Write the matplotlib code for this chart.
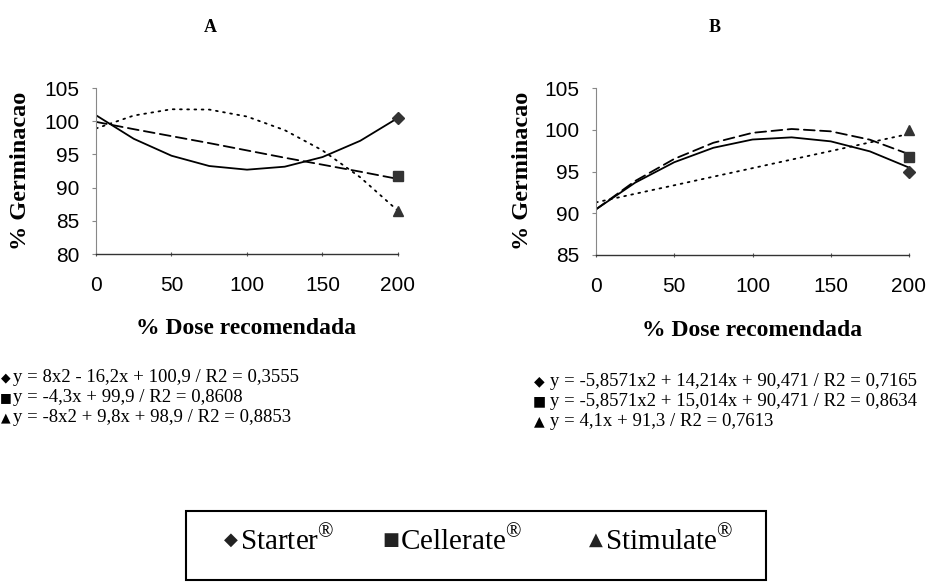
"""Germination vs recommended dose, panels A and B with trendline equations."""
import matplotlib
matplotlib.use('Agg')
import matplotlib.pyplot as plt
from matplotlib.patches import Rectangle

plt.rcParams['mathtext.fontset'] = 'custom'
plt.rcParams['mathtext.rm'] = 'Liberation Serif'

W, H = 928, 583

# values, every 25 % of dose
dose = [0, 25, 50, 75, 100, 125, 150, 175, 200]

a_starter = [100.9, 97.35, 94.8, 93.25, 92.7, 93.15, 94.6, 97.05, 100.5]
a_cellerate = [99.9, 98.8, 97.75, 96.7, 95.6, 94.5, 93.45, 92.4, 91.3]
a_stimulate = [98.9, 100.85, 101.8, 101.75, 100.7, 98.65, 95.6, 91.55, 86.5]
a_marks = [100.5, 91.8, 86.5]          # Starter, Cellerate, Stimulate at 200

b_starter = [90.47, 93.66, 96.11, 97.84, 98.83, 99.09, 98.61, 97.41, 95.47]
b_cellerate = [90.47, 93.86, 96.51, 98.44, 99.63, 100.09, 99.81, 98.81, 97.07]
b_stimulate = [91.3, 92.33, 93.35, 94.38, 95.4, 96.43, 97.45, 98.48, 99.5]
b_marks = [95.0, 96.7, 100.0]

eq_a = ['y = 8x2 - 16,2x + 100,9 / R2 = 0,3555',
        'y = -4,3x + 99,9 / R2 = 0,8608',
        'y = -8x2 + 9,8x + 98,9 / R2 = 0,8853']
eq_b = ['y = -5,8571x2 + 14,214x + 90,471 / R2 = 0,7165',
        'y = -5,8571x2 + 15,014x + 90,471 / R2 = 0,8634',
        'y = 4,1x + 91,3 / R2 = 0,7613']

products = ['Starter', 'Cellerate', 'Stimulate']
glyphs = ['\u25c6', '\u25a0', '\u25b2']
markers = ['D', 's', '^']
styles = ['-', (0, (6, 3)), (0, (1, 3))]


def fx(x):
    return x / W


def fy(y):
    return 1 - y / H


def draw_panel(ax, series, marks, ylim):
    for ys, ls in zip(series, styles):
        ax.plot(dose, ys, color='black', lw=1.3, linestyle=ls, dash_capstyle='round')
    for m, v in zip(markers, marks):
        ax.plot([200], [v], marker=m, ms=7 if m != 'D' else 6, color='#333333',
                linestyle='none', clip_on=False)
    ax.set_xlim(0, 200)
    ax.set_ylim(*ylim)
    ax.set_xticks([0, 50, 100, 150, 200])
    ax.set_yticks(range(ylim[0], ylim[1] + 1, 5))
    for sp in ('top', 'right'):
        ax.spines[sp].set_visible(False)
    ax.spines['left'].set_color('#888888'); ax.spines['left'].set_linewidth(0.8)
    ax.spines['bottom'].set_color('#333333'); ax.spines['bottom'].set_linewidth(1.0)
    ax.tick_params(axis='y', direction='out', length=3, width=0.8, color='#888888', pad=9)
    ax.tick_params(axis='x', direction='inout', length=3, width=0.8, color='#555555', pad=14)
    for lab in ax.get_xticklabels() + ax.get_yticklabels():
        lab.set_fontfamily('Liberation Sans'); lab.set_fontsize(15)


fig = plt.figure(figsize=(W / 100, H / 100), dpi=100, facecolor='white')

axA = fig.add_axes([fx(96), fy(254), (398 - 96) / W, (254 - 88) / H])
draw_panel(axA, [a_starter, a_cellerate, a_stimulate], a_marks, (80, 105))
axB = fig.add_axes([fx(596), fy(255), (909 - 596) / W, (255 - 88) / H])
draw_panel(axB, [b_starter, b_cellerate, b_stimulate], b_marks, (85, 105))

serif_b = dict(family='Liberation Serif', weight='bold')
fig.text(fx(210), fy(27), 'A', fontsize=13, ha='center', va='center', **serif_b)
fig.text(fx(715), fy(27), 'B', fontsize=13, ha='center', va='center', **serif_b)
fig.text(fx(21), fy(171), '% Germinacao', rotation=90, fontsize=17.5,
         ha='center', va='center', **serif_b)
fig.text(fx(523), fy(171), '% Germinacao', rotation=90, fontsize=17.5,
         ha='center', va='center', **serif_b)
fig.text(fx(246), fy(328), '% Dose recomendada', fontsize=17, ha='center', va='center', **serif_b)
fig.text(fx(752), fy(330), '% Dose recomendada', fontsize=17, ha='center', va='center', **serif_b)

# trendline equations
for i, (g, t) in enumerate(zip(glyphs, eq_a)):
    y = 378 + i * 20
    fig.text(fx(5.5), fy(y), g, fontsize=9, family='DejaVu Sans', ha='center', va='center')
    fig.text(fx(13), fy(y), t, fontsize=13.5, family='Liberation Serif', va='center')
for i, (g, t) in enumerate(zip(glyphs, eq_b)):
    y = 381 + i * 20
    fig.text(fx(539), fy(y), g, fontsize=10, family='DejaVu Sans', ha='center', va='center')
    fig.text(fx(550), fy(y), t, fontsize=13.5, family='Liberation Serif', va='center')

# legend box
fig.add_artist(Rectangle((fx(186), fy(580)), (766 - 186) / W, (580 - 511) / H,
                         transform=fig.transFigure, fill=False, edgecolor='black', lw=1.5))
for g, name, gx in zip(glyphs, products, [231, 391, 596]):
    fig.text(fx(gx), fy(540), g, fontsize=13, family='DejaVu Sans', color='#222222',
             ha='center', va='center')
    fig.text(fx(gx + 9), fy(541), '$\\mathrm{%s}^{\u00ae}$' % name, fontsize=21,
             va='center')

fig.savefig('out.png', dpi=100, facecolor='white')
